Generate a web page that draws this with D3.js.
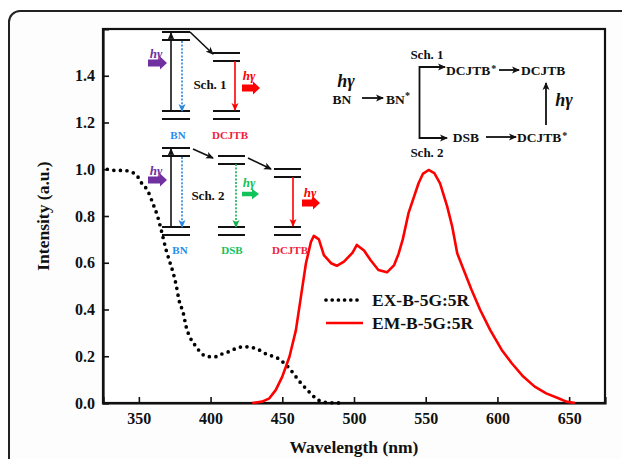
<!DOCTYPE html>
<html>
<head>
<meta charset="utf-8">
<script src="https://cdn.jsdelivr.net/npm/d3@7"></script>
<style>
  body { margin: 0; background: #fff; }
</style>
</head>
<body>
<div id="chart"></div>
<script>
// ---------------------------------------------------------
// DATA
// ---------------------------------------------------------
const exWavelength = [328, 334, 339, 344, 349, 352, 356, 360, 363, 366, 369, 371.5, 374, 376, 378, 381, 383, 386, 390, 394,
  399, 404, 408, 413, 418, 423, 428, 433, 437, 442, 447, 451, 455, 459, 463, 467, 471, 475, 480, 485, 490];
const exIntensity = [1.0, 0.995, 0.995, 0.99, 0.97, 0.94, 0.91, 0.85, 0.80, 0.73, 0.655, 0.605, 0.555, 0.505, 0.44, 0.384, 0.326, 0.277, 0.241, 0.21,
  0.198, 0.198, 0.21, 0.22, 0.234, 0.241, 0.238, 0.23, 0.215, 0.203, 0.191, 0.172, 0.148, 0.116, 0.085, 0.059, 0.033, 0.013, 0.003, 0.001, 0];

const emWavelength = [429, 436, 441, 445.5, 450, 455, 459.5, 463, 466.5, 470, 472, 475.5, 479, 484, 488, 493, 499, 502, 507, 511.5,
  517, 523, 528, 531, 534, 538, 545, 548, 552, 556, 560, 565, 568.5, 572, 576.5, 582, 588, 595, 603, 610, 618, 626, 634, 642.5, 648, 654];
const emIntensity = [0, 0.006, 0.02, 0.056, 0.113, 0.198, 0.312, 0.455, 0.598, 0.69, 0.715, 0.70, 0.633, 0.598, 0.587, 0.605, 0.643, 0.676, 0.652, 0.612,
  0.569, 0.559, 0.59, 0.637, 0.70, 0.812, 0.94, 0.98, 0.997, 0.983, 0.94, 0.84, 0.754, 0.64, 0.569, 0.483, 0.398, 0.312, 0.227, 0.17, 0.113, 0.07, 0.041, 0.02, 0.006, 0];

const seriesNames = ["EX-B-5G:5R", "EM-B-5G:5R"];
const xTicks = [350, 400, 450, 500, 550, 600, 650];
const yTicks = [0, 0.2, 0.4, 0.6, 0.8, 1.0, 1.2, 1.4];

// ---------------------------------------------------------
// SETUP
// ---------------------------------------------------------
const width = 622, height = 459;
const margin = { top: 29, right: 17, bottom: 56, left: 103 };
const serif = '"Liberation Serif", "Times New Roman", "DejaVu Serif", serif';

const svg = d3.select("#chart").append("svg")
  .attr("width", width).attr("height", height)
  .style("font-family", serif);

// outer rounded frame
svg.append("rect")
  .attr("x", 9).attr("y", 11).attr("width", 650).attr("height", 480)
  .attr("rx", 11).attr("fill", "#fdfdfd").attr("stroke", "#222").attr("stroke-width", 2);

const x = d3.scaleLinear().domain([325, 675]).range([margin.left, width - margin.right]);
const y = d3.scaleLinear().domain([0, 1.6]).range([height - margin.bottom, margin.top]);

// plot area
svg.append("rect")
  .attr("x", x(325)).attr("y", y(1.6))
  .attr("width", x(675) - x(325)).attr("height", y(0) - y(1.6))
  .attr("fill", "#fff").attr("stroke", "#111").attr("stroke-width", 2.2);

// axes with inward ticks
const xAxis = svg.append("g")
  .attr("transform", `translate(0,${y(0)})`)
  .call(d3.axisBottom(x).tickValues(xTicks).tickSize(-6).tickPadding(10).tickFormat(d3.format("d")));
const yAxis = svg.append("g")
  .attr("transform", `translate(${x(325)},0)`)
  .call(d3.axisLeft(y).tickValues(yTicks).tickSize(-6).tickPadding(8).tickFormat(d3.format(".1f")));

[xAxis, yAxis].forEach(a => {
  a.attr("font-family", null).attr("font-size", null);
  a.select(".domain").attr("stroke", "#111").attr("stroke-width", 2.2);
  a.selectAll(".tick line").attr("stroke", "#111").attr("stroke-width", 1.6);
  a.selectAll(".tick text").attr("fill", "#111").style("font-size", "16px");
});

svg.append("text")
  .attr("x", (x(325) + x(675)) / 2).attr("y", 453)
  .attr("text-anchor", "middle").style("font-size", "17.5px").attr("fill", "#111")
  .text("Wavelength (nm)");

svg.append("text")
  .attr("transform", `translate(49,${(y(0) + y(1.6)) / 2}) rotate(-90)`)
  .attr("text-anchor", "middle").style("font-size", "17.5px").attr("fill", "#111")
  .text("Intensity (a.u.)");

// ---------------------------------------------------------
// CURVES
// ---------------------------------------------------------
const exData = exWavelength.map((w, i) => ({ w, v: exIntensity[i] }));
const emData = emWavelength.map((w, i) => ({ w, v: emIntensity[i] }));

const line = d3.line().x(d => x(d.w)).y(d => y(d.v)).curve(d3.curveMonotoneX);

svg.append("path").datum(exData)
  .attr("d", line).attr("fill", "none")
  .attr("stroke", "#000").attr("stroke-width", 3.7)
  .attr("stroke-linecap", "round").attr("stroke-dasharray", "0 6.6");

svg.append("path").datum(emData)
  .attr("d", d3.line().x(d => x(d.w)).y(d => y(d.v)))
  .attr("fill", "none").attr("stroke", "#ff0000").attr("stroke-width", 2.6)
  .attr("stroke-linejoin", "round");

// legend
const legend = svg.append("g");
seriesNames.forEach((name, i) => {
  const ly = 300 + i * 23;
  const l = legend.append("line")
    .attr("x1", 326).attr("x2", 363).attr("y1", ly).attr("y2", ly);
  if (i === 0) {
    l.attr("stroke", "#000").attr("stroke-width", 3.7).attr("stroke-linecap", "round").attr("stroke-dasharray", "0 6.2");
  } else {
    l.attr("stroke", "#ff0000").attr("stroke-width", 2.6);
  }
  legend.append("text")
    .attr("x", 372).attr("y", ly + 6)
    .style("font-size", "17.5px").attr("fill", "#111").text(name);
});

// ---------------------------------------------------------
// INSET SCHEMES
// ---------------------------------------------------------
const defs = svg.append("defs");
const arrowColors = { black: "#111", red: "#ff0000", blue: "#2b86e0", green: "#10b04a" };
Object.entries(arrowColors).forEach(([k, c]) => {
  defs.append("marker")
    .attr("id", "ah-" + k).attr("markerUnits", "userSpaceOnUse")
    .attr("markerWidth", 8).attr("markerHeight", 8)
    .attr("refX", 7).attr("refY", 4).attr("orient", "auto")
    .append("path").attr("d", "M0,0.5 L8,4 L0,7.5 L2,4 Z").attr("fill", c);
});

const inset = svg.append("g");

function level(x1, x2, yy) {
  inset.append("line").attr("x1", x1).attr("x2", x2).attr("y1", yy).attr("y2", yy)
    .attr("stroke", "#111").attr("stroke-width", 2);
}
function arrow(x1, y1, x2, y2, key, dashed, w) {
  inset.append("line").attr("x1", x1).attr("y1", y1).attr("x2", x2).attr("y2", y2)
    .attr("stroke", arrowColors[key]).attr("stroke-width", w || 1.6)
    .attr("stroke-dasharray", dashed ? "2 1.6" : null)
    .attr("marker-end", `url(#ah-${key})`);
}
function blockArrow(x0, yy, len, color, th) {
  const t = th || 6, hh = t + 6, hl = 7;
  const p = d3.path();
  p.moveTo(x0, yy - t / 2); p.lineTo(x0 + len - hl, yy - t / 2); p.lineTo(x0 + len - hl, yy - hh / 2);
  p.lineTo(x0 + len, yy); p.lineTo(x0 + len - hl, yy + hh / 2); p.lineTo(x0 + len - hl, yy + t / 2);
  p.lineTo(x0, yy + t / 2); p.closePath();
  inset.append("path").attr("d", p.toString()).attr("fill", color);
}
function hv(xx, yy, color, size) {
  inset.append("text").attr("x", xx).attr("y", yy).attr("text-anchor", "middle")
    .style("font-size", (size || 13) + "px").style("font-style", "italic")
    .attr("fill", color).text("hγ");
}
function label(xx, yy, txt, color, size) {
  return inset.append("text").attr("x", xx).attr("y", yy).attr("text-anchor", "middle")
    .style("font-size", (size || 11) + "px").attr("fill", color).text(txt);
}

const purple = "#7030a0", redC = "#ff0000", greenC = "#12c25a", blueC = "#1e8cf0";

// Sch. 1
level(162, 190, 32); level(162, 190, 40);
level(162, 190, 111); level(162, 190, 119);
arrow(171, 111, 171, 33, "black");
arrow(182, 41, 182, 111, "blue", true);
blockArrow(148, 63, 19, purple, 7);
hv(156, 58, purple);
arrow(190, 32, 213, 54, "black");
level(213, 240, 53); level(213, 240, 61);
level(213, 240, 111); level(213, 240, 119);
arrow(235, 61, 235, 110, "red");
label(210, 89, "Sch. 1", "#111", 13);
hv(249, 80, redC);
blockArrow(242, 88, 18, redC, 7);
label(178, 139, "BN", blueC);
label(230, 139, "DCJTB", "#f0203c");

// Sch. 2
level(162, 190, 148); level(162, 190, 156);
level(162, 190, 227); level(162, 190, 235);
arrow(171, 227, 171, 149, "black");
arrow(182, 157, 182, 227, "blue", true);
blockArrow(148, 180, 19, purple, 7);
hv(156, 175, purple);
arrow(193, 149, 213, 158, "black");
level(218, 245, 156); level(218, 245, 164);
level(218, 245, 227); level(218, 245, 235);
arrow(236, 164, 236, 227, "green", true);
hv(249, 187, greenC);
blockArrow(242, 194, 17, greenC, 4.5);
arrow(248, 158, 271, 169, "black");
level(274, 301, 169); level(274, 301, 177);
level(274, 301, 227); level(274, 301, 235);
arrow(293, 177, 293, 226, "red");
hv(310, 197, redC);
blockArrow(302, 203, 18, redC, 7);
label(208, 200, "Sch. 2", "#111", 13);
label(180, 254, "BN", blueC);
label(232, 254, "DSB", greenC);
label(290, 254, "DCJTB", "#f0203c");

// flowchart on the right
const fs = 13.5;
hv(346, 87, "#111", 18);
label(342, 104, "BN", "#111", fs);
arrow(362, 98, 383, 98, "black", false, 1.8);
const bn = label(398, 104, "BN", "#111", fs);
bn.append("tspan").attr("dy", -5).style("font-size", "10px").text("*");
inset.append("path").attr("d", "M443,67 L419.5,67 L419.5,138 L446,138")
  .attr("fill", "none").attr("stroke", "#111").attr("stroke-width", 1.8);
arrow(436, 67, 445, 67, "black", false, 1.8);
arrow(436, 138, 447, 138, "black", false, 1.8);
label(427, 59, "Sch. 1", "#111", 13);
label(427, 157, "Sch. 2", "#111", 13);
const d1 = inset.append("text").attr("x", 446).attr("y", 75).style("font-size", fs + "px").attr("fill", "#111").text("DCJTB");
d1.append("tspan").attr("dx", 1).attr("dy", -3).style("font-size", "10px").text("*");
arrow(499, 70, 519, 70, "black", false, 1.8);
inset.append("text").attr("x", 521).attr("y", 75).style("font-size", fs + "px").attr("fill", "#111").text("DCJTB");
arrow(546, 125, 546, 83, "black", false, 1.8);
hv(564, 106, "#111", 18);
label(466, 142, "DSB", "#111", fs);
arrow(486, 137, 516, 137, "black", false, 1.8);
const d2 = inset.append("text").attr("x", 517).attr("y", 142).style("font-size", fs + "px").attr("fill", "#111").text("DCJTB");
d2.append("tspan").attr("dx", 1).attr("dy", -3).style("font-size", "10px").text("*");

// apply the serif face to every label
svg.selectAll("text").style("font-family", serif).style("font-weight", "bold");
</script>
</body>
</html>
